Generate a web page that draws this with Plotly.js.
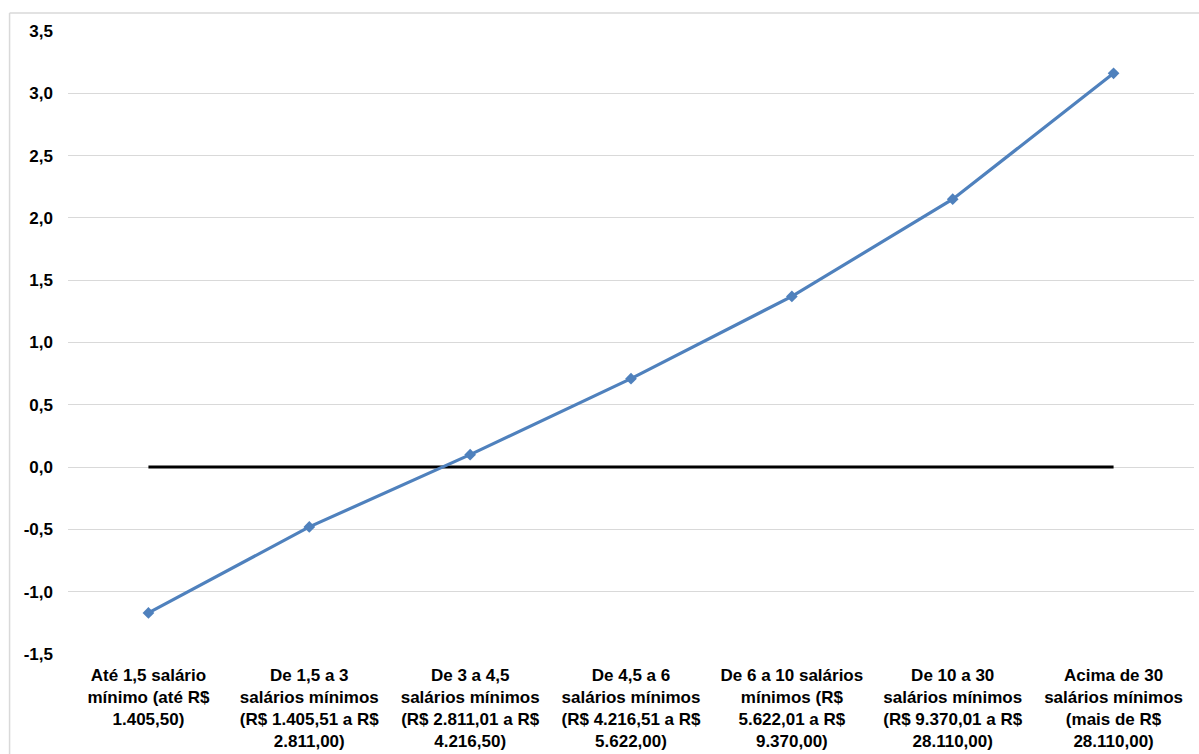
<!DOCTYPE html>
<html>
<head>
<meta charset="utf-8">
<script src="https://cdn.plot.ly/plotly-3.0.1.min.js"></script>
<style>html,body{margin:0;padding:0;background:#fff;}#chart{width:1199px;height:754px;}</style>
</head>
<body>
<div id="chart"></div>
<script>
const categories = [
  "Até 1,5 salário<br>mínimo (até R$<br>1.405,50)",
  "De 1,5 a 3<br>salários mínimos<br>(R$ 1.405,51 a R$<br>2.811,00)",
  "De 3 a 4,5<br>salários mínimos<br>(R$ 2.811,01 a R$<br>4.216,50)",
  "De 4,5 a 6<br>salários mínimos<br>(R$ 4.216,51 a R$<br>5.622,00)",
  "De 6 a 10 salários<br>mínimos (R$<br>5.622,01 a R$<br>9.370,00)",
  "De 10 a 30<br>salários mínimos<br>(R$ 9.370,01 a R$<br>28.110,00)",
  "Acima de 30<br>salários mínimos<br>(mais de R$<br>28.110,00)"
];
const values = [-1.17, -0.48, 0.10, 0.71, 1.37, 2.15, 3.16];
const zeroLine = [0, 0, 0, 0, 0, 0, 0];
const yTickVals = [-1.5, -1.0, -0.5, 0.0, 0.5, 1.0, 1.5, 2.0, 2.5, 3.0, 3.5];
const yTickText = ["-1,5", "-1,0", "-0,5", "0,0", "0,5", "1,0", "1,5", "2,0", "2,5", "3,0", "3,5"];

const font = {family: "Liberation Sans, Arial, sans-serif", size: 17, color: "#000"};

const traces = [
  {
    x: categories, y: zeroLine, type: "scatter", mode: "lines",
    line: {color: "#000000", width: 3}, hoverinfo: "skip", showlegend: false
  },
  {
    x: categories, y: values, type: "scatter", mode: "lines+markers",
    line: {color: "#4F81BD", width: 3.2},
    marker: {symbol: "diamond", size: 9, color: "#4F81BD"},
    showlegend: false
  }
];

const layout = {
  width: 1199, height: 754,
  margin: {l: 68, r: 5, t: 31, b: 100},
  paper_bgcolor: "#fff", plot_bgcolor: "#fff",
  font: font,
  showlegend: false,
  xaxis: {
    type: "category",
    range: [-0.5, categories.length - 0.5],
    showgrid: false, zeroline: false, showline: false, ticks: "",
    ticklabelstandoff: 9,
    tickfont: {family: font.family, size: 17, color: "#000", weight: "bold"},
    tickangle: 0,
    automargin: false
  },
  yaxis: {
    range: [-1.5, 3.5],
    tickvals: yTickVals, ticktext: yTickText,
    showgrid: true, gridcolor: "#d9d9d9", gridwidth: 1,
    zeroline: false, showline: false, ticks: "",
    ticklabelstandoff: 14,
    tickfont: {family: font.family, size: 17, color: "#000", weight: "bold"},
    automargin: false
  },
  shapes: [
    {type: "line", xref: "paper", yref: "paper", x0: -0.0519, x1: 1.01, y0: 1.0289, y1: 1.0289, line: {color: "#d9d9d9", width: 1.5}},
    {type: "line", xref: "paper", yref: "paper", x0: -0.0519, x1: -0.0519, y0: 1.0289, y1: -0.2, line: {color: "#d9d9d9", width: 1.5}}
  ]
};

Plotly.newPlot("chart", traces, layout, {displayModeBar: false, staticPlot: true});
</script>
</body>
</html>
